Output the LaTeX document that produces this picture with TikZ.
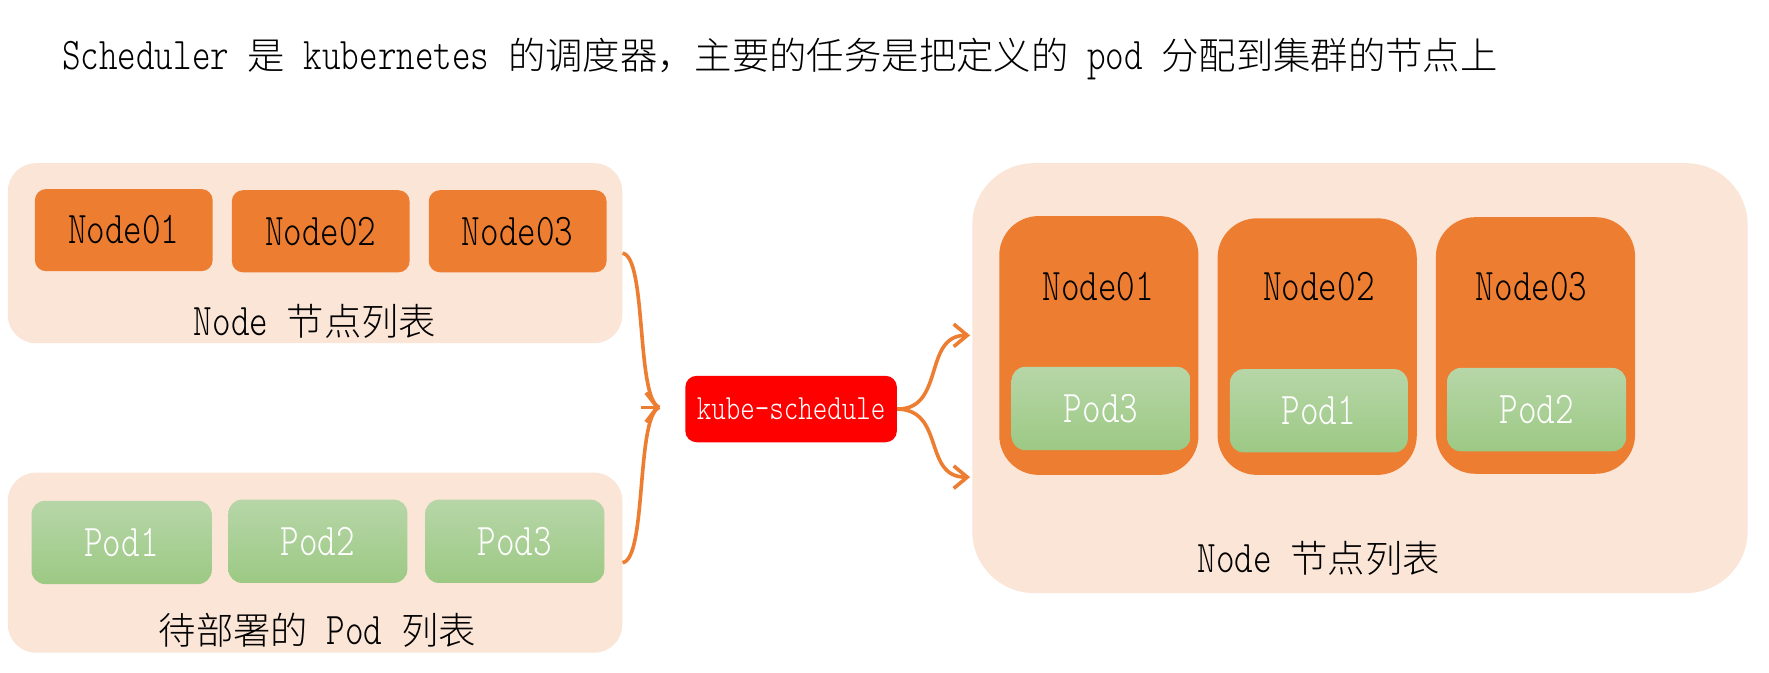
\documentclass[tikz,border=0pt]{standalone}
\usepackage{fontspec}
\usetikzlibrary{arrows.meta}
\newfontfamily\latf[FakeStretch=0.78]{Latin Modern Mono Light}
\newfontfamily\cjkf[UprightFont={* Light}]{Noto Sans CJK SC}
\newcommand\latx[1]{{\latf\fontsize{40.3}{44}\selectfont #1}}
\newcommand\latsmall[1]{{\latf\fontsize{31.5}{36}\selectfont #1}}
\newcommand\zhx[1]{{\cjkf\fontsize{33.2}{40}\selectfont #1}}
\definecolor{peach}{HTML}{FBE5D6}
\definecolor{ora}{HTML}{ED7D31}
\definecolor{gtop}{HTML}{B7D6A8}
\definecolor{gbot}{HTML}{9CC984}
\tikzset{
  container/.style={fill=peach, draw=none, rounded corners=25pt, inner sep=0pt},
  nodebox/.style={fill=ora, draw=none, rounded corners=10pt, inner sep=0pt, text=black},
  bignode/.style={fill=ora, draw=none, rounded corners=35pt, inner sep=0pt},
  podbox/.style={top color=gtop, bottom color=gbot, draw=none, rounded corners=12pt, inner sep=0pt, text=white},
  lbl/.style={inner sep=0pt, text=black},
  conn/.style={draw=ora, line width=3.2pt},
  arrowhd/.style={-{Straight Barb[length=10pt,width=26pt]}},
  arrowhdr/.style={-{Straight Barb[length=12pt,width=20pt]}},
}
\begin{document}
\begin{tikzpicture}[x=1pt,y=-1pt]
\useasboundingbox[fill=white] (0,0) rectangle (1572,598);
% title
\node[lbl, anchor=base west] (title) at (55,62) {\latx{Scheduler }\zhx{是}\latx{ kubernetes }\zhx{的调度器，主要的任务是把定义的}\latx{ pod }\zhx{分配到集群的节点上}};
% left containers
\node[container, minimum width=546pt, minimum height=160pt] (lt) at (280,225) {};
\node[container, minimum width=546pt, minimum height=160pt] (lb) at (280,500) {};
% left nodes
\node[nodebox, minimum width=158pt, minimum height=73pt] (n1) at (110,204.5) {\latx{Node01}};
\node[nodebox, minimum width=158pt, minimum height=73pt] (n2) at (285,205.5) {\latx{Node02}};
\node[nodebox, minimum width=158pt, minimum height=73pt] (n3) at (460,205.5) {\latx{Node03}};
\node[lbl] (ltl) at (280,286) {\latx{Node }\zhx{节点列表}};
% left pods
\node[podbox, minimum width=160pt, minimum height=74pt] (p1) at (108,482) {\latx{Pod1}};
\node[podbox, minimum width=159pt, minimum height=74pt] (p2) at (282.5,481) {\latx{Pod2}};
\node[podbox, minimum width=159pt, minimum height=74pt] (p3) at (457.5,481) {\latx{Pod3}};
\node[lbl] (lbl2) at (282,560) {\zhx{待部署的}\latx{ Pod }\zhx{列表}};
% scheduler
\node[fill=red, rounded corners=10pt, inner sep=0pt, minimum width=188pt, minimum height=59pt, text=white] (ks) at (703,363.5) {\latsmall{kube-schedule}};
% right container
\node[container, rounded corners=55pt, minimum width=689pt, minimum height=382pt] (rc) at (1208.5,336) {};
\node[bignode, minimum width=177pt, minimum height=230pt] (r1) at (976.5,307) {};
\node[bignode, minimum width=177pt, minimum height=228pt] (r2) at (1170.5,308) {};
\node[bignode, minimum width=177pt, minimum height=228pt] (r3) at (1364.5,307) {};
\node[lbl] (r1t) at (976,255) {\latx{Node01}};
\node[lbl] (r2t) at (1172,255) {\latx{Node02}};
\node[lbl] (r3t) at (1361,255) {\latx{Node03}};
\node[podbox, minimum width=159pt, minimum height=74pt] (q3) at (978.5,363) {\latx{Pod3}};
\node[podbox, minimum width=158pt, minimum height=74pt] (q1) at (1172,365) {\latx{Pod1}};
\node[podbox, minimum width=159pt, minimum height=74pt] (q2) at (1365.5,364) {\latx{Pod2}};
\node[lbl] (rcl) at (1172,496) {\latx{Node }\zhx{节点列表}};
% connectors
\coordinate (tip) at (586,362);
\coordinate (tipa) at (570,362);
\coordinate (ru) at (862,298);
\coordinate (rd) at (862,424);
\draw[conn] (lt.east) .. controls (575,228) and (565,355) .. (tip);
\draw[conn] (lb.east) .. controls (575,497) and (565,369) .. (tip);
\draw[conn, arrowhd] (tipa) -- (tip);
\draw[conn, arrowhdr] (ks.east) .. controls (840,364) and (820,298) .. (ru);
\draw[conn, arrowhdr] (ks.east) .. controls (840,364) and (820,424) .. (rd);
\end{tikzpicture}
\end{document}
